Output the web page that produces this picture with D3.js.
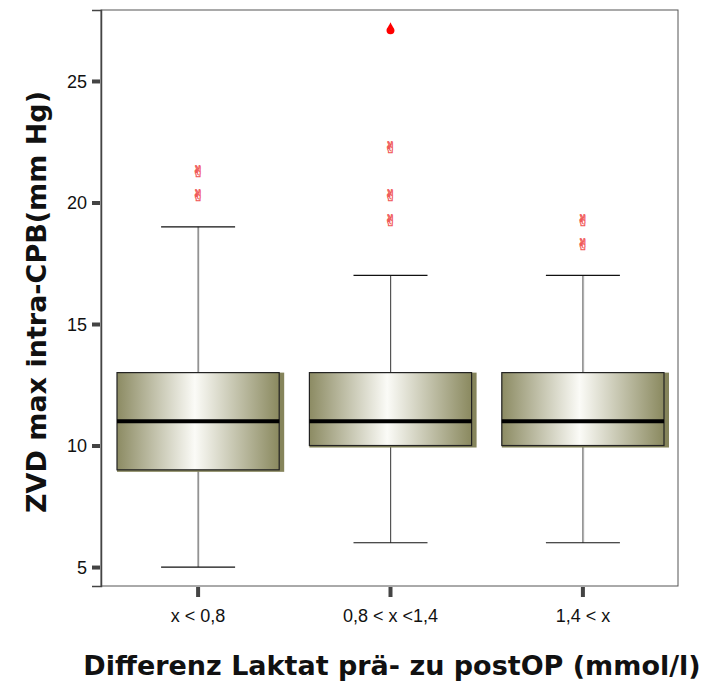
<!DOCTYPE html>
<html>
<head>
<meta charset="utf-8">
<script src="https://cdn.jsdelivr.net/npm/d3@7"></script>
<style>
body{margin:0;background:#fff;}
.tick-lbl{font-family:"Liberation Sans",Arial,sans-serif;font-size:18px;fill:#111;}
.ax-title{font-family:"DejaVu Sans",Verdana,sans-serif;font-weight:bold;font-size:27px;fill:#111;}
</style>
</head>
<body>
<div id="chart"></div>
<script>
const w = 704;
const h = 681;
const pLeft = 101, pRight = 678, pTop = 10, pBottom = 586;

// data
const groups = ["x < 0,8", "0,8 < x <1,4", "1,4 < x"];
const whiskLow = [5, 6, 6];
const q1 = [9, 10, 10];
const medians = [11, 11, 11];
const q3 = [13, 13, 13];
const whiskHigh = [19, 17, 17];
const outliers = [[20, 21], [19, 20, 22], [18, 19]];
const extremes = [[], [27], []];
const yTicks = [5, 10, 15, 20, 25];

const svg = d3.select("#chart").append("svg")
.attr("width", w).attr("height", h);

const defs = svg.append("defs");
const grad = defs.append("linearGradient").attr("id", "boxgrad")
.attr("x1", "0%").attr("x2", "100%").attr("y1", "0%").attr("y2", "0%");
grad.append("stop").attr("offset", "0%").attr("stop-color", "#8c8b63");
grad.append("stop").attr("offset", "48%").attr("stop-color", "#fbfbf7");
grad.append("stop").attr("offset", "100%").attr("stop-color", "#8a895f");

// boxes 162px wide, centres ~192px apart
const x = d3.scaleBand().domain(groups).range([117, 664]).paddingInner(0.157).paddingOuter(0);
const y = d3.scaleLinear().domain([4.22, 27.92]).range([pBottom, pTop]);

// frame
svg.append("rect").attr("x", pLeft).attr("y", pTop)
.attr("width", pRight - pLeft).attr("height", pBottom - pTop)
.attr("fill", "none").attr("stroke", "#555").attr("stroke-width", 1);

// y axis
const yAxis = d3.axisLeft(y).tickValues(yTicks).tickSize(9).tickPadding(5);
const gy = svg.append("g").attr("transform", `translate(${pLeft},0)`).call(yAxis);
gy.select(".domain").attr("stroke", "#444").attr("stroke-width", 1.5);
gy.selectAll(".tick line").attr("stroke", "#444").attr("stroke-width", 4).attr("x2", -9).attr("x1", -1);
gy.selectAll(".tick text").attr("class", "tick-lbl").attr("dy", "0.35em");

// x axis
const xAxis = d3.axisBottom(x).tickSize(11).tickPadding(12);
const gx = svg.append("g").attr("transform", `translate(0,${pBottom})`).call(xAxis);
gx.select(".domain").remove();
gx.selectAll(".tick line").attr("stroke", "#444").attr("stroke-width", 4).attr("y1", 1);
gx.selectAll(".tick text").attr("class", "tick-lbl");

const boxes = svg.append("g");
groups.forEach((g, i) => {
    const x0 = x(g), bw = x.bandwidth(), cx = x0 + bw / 2;
    const capW = 74;
    // whiskers
    boxes.append("line").attr("x1", cx + 1).attr("x2", cx + 1)
    .attr("y1", y(whiskHigh[i])).attr("y2", y(whiskLow[i]))
    .attr("stroke", "#ddd").attr("stroke-width", 1);
    boxes.append("line").attr("x1", cx).attr("x2", cx)
    .attr("y1", y(whiskHigh[i])).attr("y2", y(whiskLow[i]))
    .attr("stroke", "#555").attr("stroke-width", 1);
    [whiskHigh[i], whiskLow[i]].forEach(v => {
        boxes.append("line").attr("x1", cx - capW / 2).attr("x2", cx + capW / 2)
        .attr("y1", y(v)).attr("y2", y(v))
        .attr("stroke", "#111").attr("stroke-width", 1.2);
    });
    // box shadow
    boxes.append("rect").attr("x", x0).attr("y", y(q3[i]))
    .attr("width", bw + 5).attr("height", y(q1[i]) - y(q3[i]) + 2)
    .attr("fill", "#85845b");
    // box
    boxes.append("rect").attr("x", x0).attr("y", y(q3[i]))
    .attr("width", bw).attr("height", y(q1[i]) - y(q3[i]))
    .attr("fill", "url(#boxgrad)").attr("stroke", "#222").attr("stroke-width", 1.2);
    // median
    boxes.append("line").attr("x1", x0).attr("x2", x0 + bw)
    .attr("y1", y(medians[i])).attr("y2", y(medians[i]))
    .attr("stroke", "#000").attr("stroke-width", 4);
    // outliers
    outliers[i].forEach(v => {
        boxes.append("text").attr("x", cx).attr("y", y(v) - 1)
        .attr("text-anchor", "middle")
        .style("font-family", "'DejaVu Sans'").style("font-size", "16px")
        .attr("fill", "#ffb0b0").attr("stroke", "#f05a5a").attr("stroke-width", 0.5)
        .text("\u270C");
    });
    // extremes
    extremes[i].forEach(v => {
        const py = y(v) - 4;
        boxes.append("path")
        .attr("d", `M${cx},${py - 6} C${cx + 1},${py - 3} ${cx + 4},${py} ${cx + 4},${py + 2} A4,4 0 0 1 ${cx - 4},${py + 2} C${cx - 4},${py} ${cx - 1},${py - 3} ${cx},${py - 6} Z`)
        .attr("fill", "#ff0000");
    });
});

// titles
svg.append("text").attr("class", "ax-title")
.attr("transform", `translate(46,302) rotate(-90)`)
.attr("text-anchor", "middle")
.text("ZVD max intra-CPB(mm Hg)");
svg.append("text").attr("class", "ax-title")
.attr("x", 392).attr("y", 675)
.attr("text-anchor", "middle")
.text("Differenz Laktat prä- zu postOP (mmol/l)");
</script>
</body>
</html>
